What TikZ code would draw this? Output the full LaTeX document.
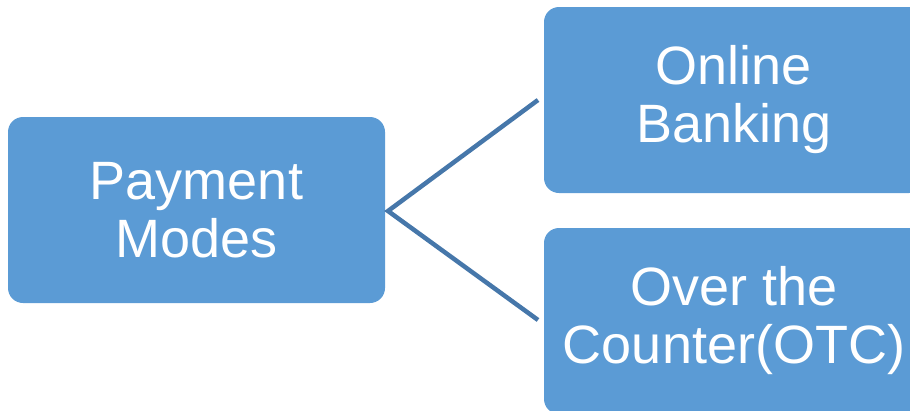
\documentclass[tikz,border=0pt]{standalone}
\usepackage{fontspec}
\setmainfont{Liberation Sans}
\definecolor{boxblue}{HTML}{5B9BD5}
\definecolor{lineblue}{HTML}{4677AA}
\begin{document}
\begin{tikzpicture}[x=1pt,y=-1pt,
  modebox/.style={fill=boxblue, draw=none, rounded corners=15pt, text=white,
    align=center, font=\fontsize{54}{58}\selectfont, inner sep=0pt},
  link/.style={draw=lineblue, line width=4.5pt}]
\useasboundingbox (0,0) rectangle (910,410);
\clip (0,0) rectangle (910,410);
\node[modebox, minimum width=377pt, minimum height=186pt] (pay) at (196.5,210) {Payment\\Modes};
\node[modebox, minimum width=380pt, minimum height=186pt] (online) at (734,100) {Online\\Banking};
\node[modebox, minimum width=380pt, minimum height=186pt] (otc) at (734,321) {Over the\\Counter(OTC)};
\coordinate (v) at (388,211);
\coordinate (u) at (538,100);
\coordinate (l) at (538,320);
\draw[link, line join=miter] (u) -- (v) -- (l);
\end{tikzpicture}
\end{document}
